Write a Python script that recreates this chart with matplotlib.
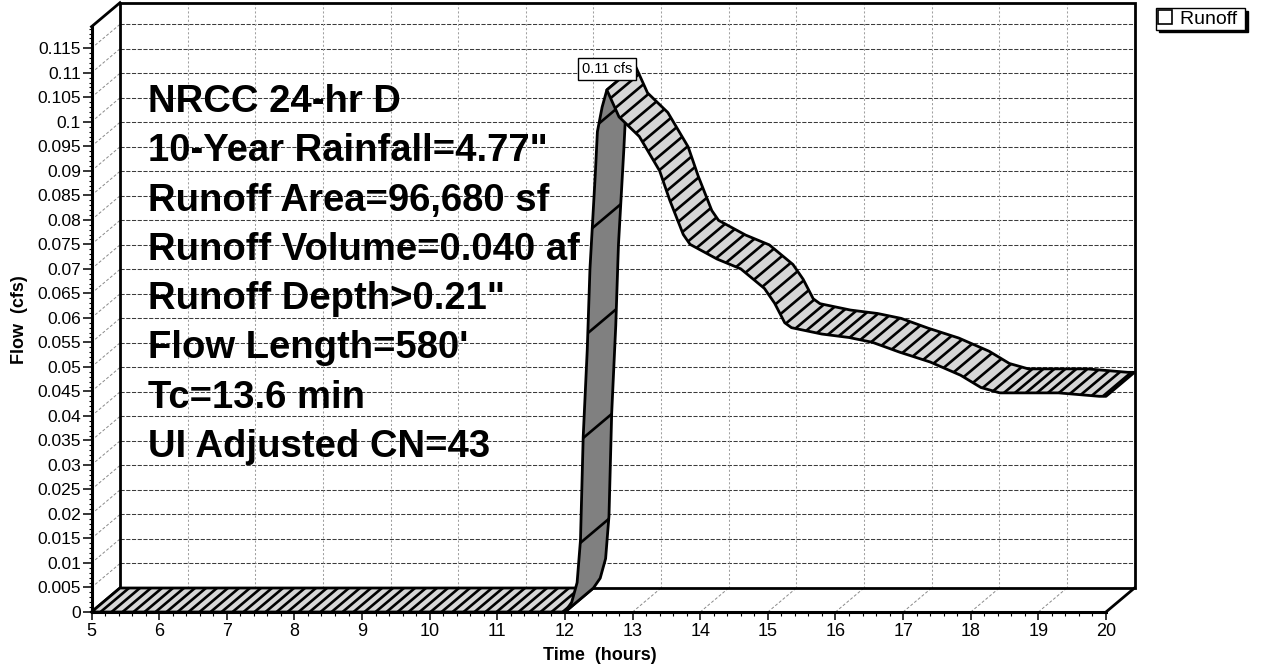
import numpy as np
import matplotlib
matplotlib.use("Agg")
import matplotlib.pyplot as plt
from matplotlib.patches import Polygon, Patch
from matplotlib.collections import LineCollection
from matplotlib.ticker import MultipleLocator

plt.rcParams['font.family'] = ['Liberation Sans', 'DejaVu Sans']

# ---------------------------------------------------------------- data
time_hr = [5.00, 12.00, 12.10, 12.18, 12.23, 12.27, 12.33, 12.37, 12.45, 12.48,
           12.55, 12.62, 12.80, 13.10, 13.40, 13.55, 13.75, 13.85, 14.25, 14.60,
           14.95, 15.10, 15.25, 15.35, 15.80, 16.20, 16.55, 16.95, 17.40, 17.85,
           18.15, 18.43, 19.30, 19.90, 20.00]
flow_cfs = [0.0, 0.0, 0.002, 0.006, 0.0147, 0.0357, 0.0535, 0.070, 0.0896, 0.098,
            0.103, 0.1065, 0.101, 0.097, 0.090, 0.084, 0.077, 0.075, 0.072, 0.070,
            0.066, 0.063, 0.059, 0.058, 0.0567, 0.056, 0.055, 0.053, 0.051, 0.0483,
            0.0458, 0.0447, 0.0447, 0.0440, 0.0440]
series_name = "Runoff"
x_ticks = list(range(5, 21))
y_ticks = [round(0.005 * i, 3) for i in range(24)]
info_lines = ["NRCC 24-hr D",
              "10-Year Rainfall=4.77\"",
              "Runoff Area=96,680 sf",
              "Runoff Volume=0.040 af",
              "Runoff Depth>0.21\"",
              "Flow Length=580'",
              "Tc=13.6 min",
              "UI Adjusted CN=43"]
x_label = "Time  (hours)"
y_label = "Flow  (cfs)"

X_MIN, X_MAX = 5, 20
Y_MAX = 0.1194
DEPTH_PX = (28.5, 24.0)          # oblique depth of the 3-D box, pixels

LIGHT = '#d6d6d6'
DARK = '#808080'

# ---------------------------------------------------------------- figure
W, H, DPI = 1264, 666, 100
fig = plt.figure(figsize=(W / DPI, H / DPI), dpi=DPI)
fig.patch.set_facecolor('white')
ax = fig.add_axes([91.5 / W, (H - 612) / H, (1106 - 91.5) / W, (612 - 26.7) / H])
ax.set_xlim(X_MIN, X_MAX)
ax.set_ylim(0, Y_MAX)
ax.patch.set_visible(False)

# depth offset converted to data units
p0 = ax.transData.transform((X_MIN, 0.0))
ox, oy = ax.transData.inverted().transform(p0 + np.array(DEPTH_PX)) - np.array([X_MIN, 0.0])


def line(xs, ys, **kw):
    ax.plot(xs, ys, clip_on=False, **kw)


# back wall grid
grid_h = dict(color='#3c3c3c', lw=0.75, ls=(0, (4, 1.5)), zorder=1)
grid_v = dict(color='#a0a0a0', lw=0.75, ls=(0, (2, 2)), zorder=1)
grid_d = dict(color='#8a8a8a', lw=0.7, ls=(0, (3, 2)), zorder=1)
for v in y_ticks[1:]:
    line([X_MIN + ox, X_MAX + ox], [v + oy, v + oy], **grid_h)
    line([X_MIN, X_MIN + ox], [v, v + oy], **grid_d)          # left wall
for h in x_ticks[1:-1]:
    line([h + ox, h + ox], [oy, Y_MAX + oy], **grid_v)
    line([h, h + ox], [0, oy], **grid_d)                       # floor

# box outline
frame = dict(color='black', lw=2.0, zorder=2, solid_joinstyle='miter',
             solid_capstyle='projecting')
line([X_MIN + ox, X_MAX + ox, X_MAX + ox, X_MIN + ox, X_MIN + ox],
     [oy, oy, Y_MAX + oy, Y_MAX + oy, oy], **frame)
line([X_MIN, X_MIN + ox], [Y_MAX, Y_MAX + oy], **frame)
line([X_MIN, X_MIN + ox], [0, oy], **frame)
line([X_MAX, X_MAX + ox], [0, oy], **frame)

# info block on the back wall
for i, txt in enumerate(info_lines):
    ax.text(0.0552, (612 - 112 - 49.3 * i) / 585.3, txt, transform=ax.transAxes,
            fontsize=27.5, fontweight='bold', va='baseline', ha='left',
            color='black', zorder=1.5)

# ---------------------------------------------------------------- ribbon
t = np.asarray(time_hr, float)
q = np.asarray(flow_cfs, float)
pix = ax.transData.transform(np.column_stack([t, q]))
d = np.diff(pix, axis=0)
top_side = d[:, 0] * DEPTH_PX[1] - d[:, 1] * DEPTH_PX[0] >= 0

runs = []
start = 0
for i in range(1, len(top_side) + 1):
    if i == len(top_side) or top_side[i] != top_side[start]:
        runs.append((start, i, bool(top_side[start])))
        start = i

z = 3
for s, e, is_top in runs:
    ft, fq = t[s:e + 1], q[s:e + 1]
    front = np.column_stack([ft, fq])
    back = front + np.array([ox, oy])
    poly = np.vstack([front, back[::-1]])
    ax.add_patch(Polygon(poly, closed=True, fc=LIGHT if is_top else DARK,
                         ec='none', zorder=z, clip_on=False))
    fp = pix[s:e + 1]
    arc = np.concatenate([[0.0], np.cumsum(np.hypot(*np.diff(fp, axis=0).T))])
    step, phase = (11.0, 9.0) if is_top else (105.0, 72.0)
    ss = np.arange(phase, arc[-1] - 2, step)
    ht = np.interp(ss, arc, ft)
    hq = np.interp(ss, arc, fq)
    segs = [[(a, b), (a + ox, b + oy)] for a, b in zip(ht, hq)]
    lc = LineCollection(segs, colors='black', linewidths=1.9, zorder=z + 0.1,
                        capstyle='butt')
    lc.set_clip_on(False)
    ax.add_collection(lc, autolim=False)
    ax.add_patch(Polygon(poly, closed=True, fill=False, ec='black', lw=2.0,
                         joinstyle='round', zorder=z + 0.2, clip_on=False))
    z += 1

# peak label
ipk = int(np.argmax(q))
ax.annotate(f"{q[ipk]:.2f} cfs", xy=(t[ipk], q[ipk]), xytext=(0, 14),
            textcoords='offset pixels', ha='center', va='bottom', fontsize=10.5,
            bbox=dict(boxstyle='square,pad=0.25', fc='white', ec='black', lw=1.0),
            zorder=30, annotation_clip=False)

# ---------------------------------------------------------------- axes
for sname in ('top', 'right'):
    ax.spines[sname].set_visible(False)
for sname in ('left', 'bottom'):
    ax.spines[sname].set_linewidth(2.2)
    ax.spines[sname].set_capstyle('projecting')
    ax.spines[sname].set_zorder(2)

ax.set_xticks(x_ticks)
ax.set_xticklabels([str(h) for h in x_ticks])
ax.xaxis.set_minor_locator(MultipleLocator(0.2))
ax.set_yticks(y_ticks)
ax.set_yticklabels([f"{v:g}" for v in y_ticks])
ax.yaxis.set_minor_locator(MultipleLocator(0.001))

ax.tick_params(axis='y', which='major', direction='out', length=6.5, width=1.1,
               labelsize=12.5, pad=1.2)
ax.tick_params(axis='y', which='minor', direction='out', length=2.2, width=0.8)
ax.tick_params(axis='x', which='major', direction='out', length=5.5, width=1.1,
               labelsize=13, pad=2.5)
ax.tick_params(axis='x', which='minor', direction='out', length=2.8, width=0.8)

ax.set_xlabel(x_label, fontsize=13, fontweight='bold')
ax.xaxis.set_label_coords(0.5015, (612 - 656) / 585.3)
ax.xaxis.label.set_va('center')
ax.set_ylabel(y_label, fontsize=13, fontweight='bold')
ax.yaxis.set_label_coords((20 - 91.5) / 1014.5, 0.5)
ax.yaxis.label.set_va('center')

# legend
leg = fig.legend(handles=[Patch(fc='white', ec='black', lw=1.2)], labels=[series_name + " "],
                 loc='upper left', bbox_to_anchor=(1156 / W, 1 - 8 / H),
                 frameon=True, fancybox=False, edgecolor='black', framealpha=1,
                 shadow={'color': 'black', 'alpha': 1.0}, fontsize=14,
                 handlelength=0.7, handleheight=0.7, handletextpad=0.45,
                 borderpad=0.1, borderaxespad=0)
leg.get_frame().set_linewidth(1.0)

fig.savefig("out.png", dpi=DPI, facecolor='white')
